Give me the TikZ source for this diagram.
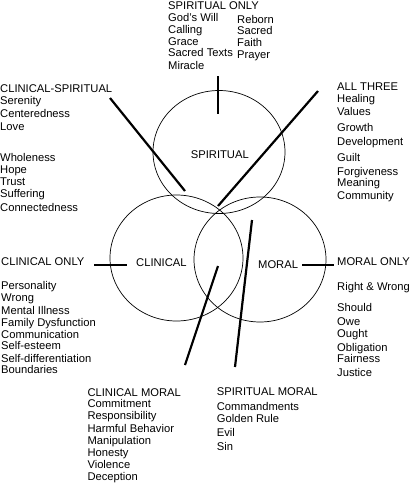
\documentclass[tikz,border=0pt]{standalone}
\usepackage{fontspec}
\setmainfont{Liberation Sans}
\usetikzlibrary{shapes.geometric}
\newcommand\txtblock[3]{%
  \foreach \yy/\tt [count=\i] in {#3}
    \node[lbl] (#1-\i) at (#2,\yy) {\tt};}
\begin{document}
\begin{tikzpicture}[x=1pt,y=-1pt,
  lbl/.style={inner sep=0pt,anchor=base west,font=\fontsize{11.2}{13}\selectfont},
  ring/.style={draw,line width=0.7pt,ellipse,inner sep=0pt},
  pointer/.style={draw,line width=2.2pt}]
\useasboundingbox (0,0) rectangle (410,483);
% circles
\node[ring,minimum width=132pt,minimum height=123pt] (spir) at (219,152) {};
\node[ring,minimum width=133pt,minimum height=126pt] (clin) at (176.5,258) {};
\node[ring,minimum width=132pt,minimum height=125pt] (mor) at (260,259.5) {};
% circle labels
\node[lbl] (spirlbl) at (190.7,158.3) {SPIRITUAL};
\node[lbl] (clinlbl) at (136,266.7) {CLINICAL};
\node[lbl] (morlbl) at (258,268) {MORAL};
% text blocks
\txtblock{so}{168}{9/SPIRITUAL ONLY,21.7/God's Will,33.3/Calling,45/Grace,56.7/Sacred Texts,69.3/Miracle}
\txtblock{sor}{237}{23.3/Reborn,34.3/Sacred,46/Faith,58.3/Prayer}
\txtblock{cs}{0}{92.3/CLINICAL-SPIRITUAL,104.3/Serenity,117.7/Centeredness,130.7/Love,161/Wholeness,173.3/Hope,185.7/Trust,197.7/Suffering,211/Connectedness}
\txtblock{at}{337}{90/ALL THREE,102.7/Healing,115.3/Values,131.7/Growth,145/Development,161/Guilt,175/Forgiveness,186.7/Meaning,199.3/Community}
\txtblock{co}{1}{265/CLINICAL ONLY,289.3/Personality,301.7/Wrong,314.3/Mental Illness,326.7/Family Dysfunction,338.3/Communication,349.3/Self-esteem,362.7/Self-differentiation,373.3/Boundaries}
\txtblock{mo}{337}{265/MORAL ONLY,290/Right \& Wrong,311.7/Should,325.7/Owe,337.3/Ought,351.7/Obligation,362.7/Fairness,376/Justice}
\txtblock{cm}{87.3}{396/CLINICAL MORAL,407.3/Commitment,419.3/Responsibility,432.3/Harmful Behavior,444/Manipulation,456/Honesty,468.3/Violence,480/Deception}
\txtblock{sm}{216.7}{395.3/SPIRITUAL MORAL,410/Commandments,422.3/Golden Rule,436.7/Evil,450/Sin}
% pointer ends
\coordinate (p1a) at (218,76);   \coordinate (p1b) at (218,114);
\coordinate (p2a) at (110,98);   \coordinate (p2b) at (185,191);
\coordinate (p3a) at (318,91);   \coordinate (p3b) at (218,206);
\coordinate (p4a) at (94,265);   \coordinate (p4b) at (127,265);
\coordinate (p5a) at (302,265);  \coordinate (p5b) at (334,265);
\coordinate (p6a) at (218,266);  \coordinate (p6b) at (185,365);
\coordinate (p7a) at (252,220);  \coordinate (p7b) at (235,367);
\draw[pointer] (p1a) -- (p1b);
\draw[pointer] (p2a) -- (p2b);
\draw[pointer] (p3a) -- (p3b);
\draw[pointer] (p4a) -- (p4b);
\draw[pointer] (p5a) -- (p5b);
\draw[pointer] (p6a) -- (p6b);
\draw[pointer] (p7a) -- (p7b);
\end{tikzpicture}
\end{document}
